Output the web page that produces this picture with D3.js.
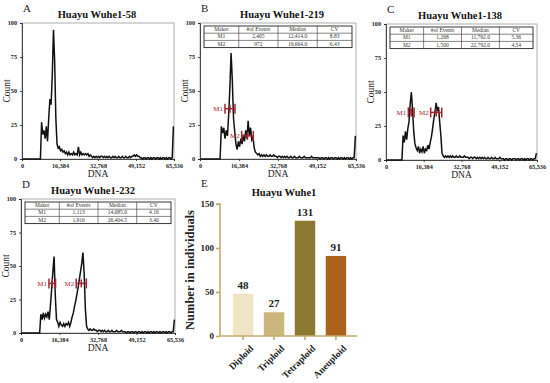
<!DOCTYPE html>
<html>
<head>
<meta charset="utf-8">
<script src="https://cdn.jsdelivr.net/npm/d3@7"></script>
<style>
  body { margin: 0; background: #fff; }
  svg { font-family: "Liberation Serif", "DejaVu Serif", serif; }
</style>
</head>
<body>
<script>
// ---- data ----
// DNA histograms: 128 bins of 512 channels each (0 .. 65,536)
var countsA = [
  0,0,0,0,0,0,0,0,0,0,0,0,0,0,0,0,
  27,18,21,15,24,13,30,44,40,62,95,72,30,11,8,9,
  6,7,5,6,4,5,3,5,3,4,3,5,3,4,3,9,
  3,5,3,4,3,4,3,4,2,3,2,1,2,1,2,1,
  2,1,2,2,1,2,1,2,1,2,1,1,2,1,2,1,
  1,2,1,1,2,1,1,2,1,1,2,1,2,2,3,2,
  3,2,2,1,1,0,1,1,0,1,1,0,1,0,1,1,
  0,1,1,0,1,0,1,1,0,1,0,1,1,0,1,24]
var countsB = [
  0,0,0,0,0,0,0,0,0,0,0,0,0,0,0,0,
  0,24,19,23,15,21,17,32,52,78,58,30,20,11,7,13,
  9,15,11,18,13,21,15,28,17,23,14,16,8,5,4,3,
  4,2,3,2,3,2,3,2,2,3,2,2,3,2,2,1,
  2,2,1,2,1,2,1,2,1,1,2,1,1,2,1,1,
  1,2,1,1,1,2,1,1,1,1,1,2,1,1,1,1,
  1,1,0,1,1,0,1,1,0,1,0,1,1,0,1,1,
  0,1,0,1,1,0,1,0,1,1,0,1,0,1,1,17]
var countsC = [
  0,0,0,0,0,0,0,0,0,0,0,0,0,0,18,13,
  21,15,23,28,41,50,37,21,12,9,7,10,5,8,6,10,
  5,8,7,11,8,13,17,23,30,35,42,36,39,28,18,5,
  3,2,3,2,3,2,3,2,3,2,2,3,2,2,3,2,
  2,2,3,2,2,2,1,2,2,1,2,2,1,2,1,2,
  1,2,1,2,1,1,2,1,1,2,1,1,2,1,1,1,
  2,1,1,1,0,1,1,0,1,1,0,1,1,1,0,1,
  1,0,1,1,0,1,0,1,1,0,1,1,0,1,1,5]
var countsD = [
  0,0,0,0,0,0,0,0,0,0,0,0,0,0,0,0,
  14,10,15,11,14,12,16,10,21,33,46,57,28,10,8,5,
  8,6,5,7,5,7,6,8,5,8,12,15,20,24,29,34,
  40,46,52,60,44,18,5,3,2,3,2,2,3,2,2,1,
  2,2,1,2,1,2,1,1,2,1,1,2,1,1,1,2,
  1,1,1,2,1,1,1,0,1,1,0,1,1,0,1,1,
  0,1,1,0,1,0,1,1,0,1,0,1,1,0,1,0,
  1,1,0,1,0,1,1,0,1,0,1,1,0,1,1,10]

var binWidth = 512
var countTicks = [0, 25, 50, 75, 100]
var dnaTicks = [0, 16384, 32768, 49152, 65536]

// gates: [name, low channel, high channel, count level]
var gatesB = [["M1", 10500, 14700, 37], ["M2", 17500, 22400, 17]]
var gatesC = [["M1", 9700, 12200, 35], ["M2", 19400, 24200, 35]]
var gatesD = [["M1", 11900, 14700, 37], ["M2", 23500, 27800, 37]]

var tableHeader = ["Maker", "#of Events", "Median", "CV"]
var tableB = [["M1", "2,405", "12,414.0", "8.83"], ["M2", "972", "19,664.0", "6.43"]]
var tableC = [["M1", "1,268", "11,792.0", "5.36"], ["M2", "1,500", "22,792.0", "4.54"]]
var tableD = [["M1", "1,113", "14,085.0", "4.16"], ["M2", "1,916", "26,404.5", "3.40"]]

// ploidy summary (panel E)
var ploidyNames = ["Diploid", "Triploid", "Tetraploid", "Aneuploid"]
var ploidyCounts = [48, 27, 131, 91]
var ploidyColors = ["#efe5c5", "#cbb77e", "#8d7a31", "#aa621d"]
var ploidyTicks = [0, 50, 100, 150]

var svg = d3.select("body").append("svg")
  .attr("width", 550)
  .attr("height", 383)

svg.append("rect").attr("width", 550).attr("height", 383).attr("fill", "#fff")

var gateColor = "#a3262f"

function drawHist(p) {
  var x = d3.scaleLinear().domain([0, 65536]).range([p.x0, p.x1])
  var y = d3.scaleLinear().domain([0, 100]).range([p.yBot, p.yTop])
  var g = svg.append("g")

  // frame
  g.append("rect")
    .attr("x", p.x0).attr("y", p.yTop)
    .attr("width", p.x1 - p.x0).attr("height", p.yBot - p.yTop)
    .attr("fill", "none").attr("stroke", "#9a9a9a").attr("stroke-width", 0.8)

  var ya = g.append("g").attr("transform", "translate(" + p.x0 + ",0)")
    .call(d3.axisLeft(y).tickValues(countTicks).tickSize(2).tickPadding(3))
  var xa = g.append("g").attr("transform", "translate(0," + p.yBot + ")")
    .call(d3.axisBottom(x).tickValues(dnaTicks).tickSize(2).tickPadding(3).tickFormat(d3.format(",")))
  ;[ya, xa].forEach(function(a) {
    a.selectAll("path, line").attr("stroke", "#222").attr("stroke-width", 0.8)
    a.selectAll("text").attr("font-family", "Liberation Serif").attr("font-size", 6.2)
      .attr("font-weight", "bold").attr("fill", "#222")
  })

  // histogram trace
  var line = d3.line()
    .x(function(d, i) { return x(i * binWidth + binWidth / 2) })
    .y(function(d) { return y(d) })
  g.append("path").datum(p.counts)
    .attr("d", line)
    .attr("fill", "none").attr("stroke", "#111").attr("stroke-width", 1.5)
    .attr("stroke-linejoin", "miter")

  // axis titles
  g.append("text")
    .attr("x", (p.x0 + p.x1) / 2).attr("y", p.yBot + 18)
    .attr("text-anchor", "middle").attr("font-size", 9.5).attr("fill", "#222")
    .text("DNA")
  g.append("text")
    .attr("transform", "translate(" + (p.x0 - 12) + "," + ((p.yTop + p.yBot) / 2) + ") rotate(-90)")
    .attr("text-anchor", "middle").attr("font-size", 9.5).attr("fill", "#222")
    .text("Count")

  // title and panel letter
  g.append("text").attr("x", p.titleX).attr("y", p.yTop - 5)
    .attr("text-anchor", "middle").attr("font-size", 10.5).attr("font-weight", "bold")
    .attr("fill", "#111").text(p.title)
  g.append("text").attr("x", p.x0 + 1).attr("y", p.yTop - 11)
    .attr("font-size", 11).attr("fill", "#222").text(p.letter)

  // gates
  if (p.gates) {
    p.gates.forEach(function(m) {
      var gy = y(m[3]), a = x(m[1]), b = x(m[2]), c = (a + b) / 2
      var gg = g.append("g").attr("stroke", gateColor).attr("stroke-width", 1.5)
      gg.append("line").attr("x1", a).attr("x2", b).attr("y1", gy).attr("y2", gy)
      gg.append("line").attr("x1", a).attr("x2", a).attr("y1", gy - 5).attr("y2", gy + 5)
      gg.append("line").attr("x1", b).attr("x2", b).attr("y1", gy - 5).attr("y2", gy + 5)
      gg.append("line").attr("x1", c).attr("x2", c).attr("y1", gy - 4).attr("y2", gy + 4)
      g.append("text").attr("x", a - 2).attr("y", gy + 2.5)
        .attr("text-anchor", "end").attr("font-size", 7).attr("fill", gateColor)
        .text(m[0])
    })
  }

  // statistics table
  if (p.table) {
    var tx0 = p.x0 + 4, tx1 = p.x1 - 4, ty0 = p.yTop + 3, rowH = 7.2
    var fr = [0, 0.235, 0.5, 0.765, 1]
    var colX = fr.map(function(f) { return tx0 + f * (tx1 - tx0) })
    var rows = [tableHeader].concat(p.table)
    var tg = g.append("g")
    tg.append("rect").attr("x", tx0).attr("y", ty0)
      .attr("width", tx1 - tx0).attr("height", rowH * rows.length)
      .attr("fill", "#fff").attr("stroke", "#222").attr("stroke-width", 0.9)
    for (var r = 1; r < rows.length; r++) {
      tg.append("line").attr("x1", tx0).attr("x2", tx1)
        .attr("y1", ty0 + r * rowH).attr("y2", ty0 + r * rowH)
        .attr("stroke", "#333").attr("stroke-width", 0.6)
    }
    for (var c = 1; c < 4; c++) {
      tg.append("line").attr("x1", colX[c]).attr("x2", colX[c])
        .attr("y1", ty0).attr("y2", ty0 + rowH * rows.length)
        .attr("stroke", "#333").attr("stroke-width", 0.6)
    }
    rows.forEach(function(row, ri) {
      row.forEach(function(cell, ci) {
        tg.append("text")
          .attr("x", (colX[ci] + colX[ci + 1]) / 2).attr("y", ty0 + ri * rowH + rowH - 2)
          .attr("text-anchor", "middle").attr("font-size", 5.5).attr("fill", "#333")
          .text(cell)
      })
    })
  }
}

drawHist({ x0: 22, x1: 174, yTop: 23, yBot: 159, counts: countsA, title: "Huayu Wuhe1-58", titleX: 97, letter: "A" })
drawHist({ x0: 200, x1: 356, yTop: 23, yBot: 159, counts: countsB, title: "Huayu Wuhe1-219", titleX: 282, letter: "B", gates: gatesB, table: tableB })
drawHist({ x0: 386, x1: 537, yTop: 24, yBot: 160, counts: countsC, title: "Huayu Wuhe1-138", titleX: 460, letter: "C", gates: gatesC, table: tableC })
drawHist({ x0: 21, x1: 175, yTop: 199, yBot: 333, counts: countsD, title: "Huayu Wuhe1-232", titleX: 93, letter: "D", gates: gatesD, table: tableD })

// ---- panel E: bar chart ----
var eAxis = "#c4ab6c"
var xe = d3.scaleBand().domain(ploidyNames).range([222, 357]).paddingInner(0.34).paddingOuter(0.35)
var ye = d3.scaleLinear().domain([0, 150]).range([336, 204])
var ge = svg.append("g")

ge.selectAll("rect.bar")
  .data(ploidyCounts)
  .enter().append("rect")
  .attr("class", "bar")
  .attr("x", function(d, i) { return xe(ploidyNames[i]) })
  .attr("y", function(d) { return ye(d) })
  .attr("width", xe.bandwidth())
  .attr("height", function(d) { return ye(0) - ye(d) })
  .attr("fill", function(d, i) { return ploidyColors[i] })

ge.selectAll("text.val")
  .data(ploidyCounts)
  .enter().append("text")
  .attr("class", "val")
  .attr("x", function(d, i) { return xe(ploidyNames[i]) + xe.bandwidth() / 2 })
  .attr("y", function(d) { return ye(d) - 5 })
  .attr("text-anchor", "middle").attr("font-size", 11).attr("font-weight", "bold")
  .attr("fill", "#222")
  .text(function(d) { return d })

var yAxE = ge.append("g").attr("transform", "translate(220,0)")
  .call(d3.axisLeft(ye).tickValues(ploidyTicks).tickSize(4).tickPadding(2))
var xAxE = ge.append("g").attr("transform", "translate(0,336)")
  .call(d3.axisBottom(xe).tickSize(4).tickSizeOuter(0))
yAxE.select(".domain").attr("d", "M-4,204H0V336")
xAxE.select(".domain").attr("d", "M220,0H357")
;[yAxE, xAxE].forEach(function(a) {
  a.selectAll("path, line").attr("stroke", eAxis).attr("stroke-width", 1.6)
  a.selectAll("text").attr("font-family", "Liberation Serif").attr("font-weight", "bold")
    .attr("fill", "#222")
})
yAxE.selectAll("text").attr("font-size", 9)
xAxE.selectAll("text")
  .attr("font-size", 9.5)
  .attr("text-anchor", "end")
  .attr("transform", "translate(2,4) rotate(-45)")
  .attr("dy", "0.6em")

ge.append("text")
  .attr("transform", "translate(194,270) rotate(-90)")
  .attr("text-anchor", "middle").attr("font-size", 12.5).attr("font-weight", "bold")
  .attr("fill", "#222").text("Number in individuals")

ge.append("text").attr("x", 284).attr("y", 196)
  .attr("text-anchor", "middle").attr("font-size", 10.5).attr("font-weight", "bold")
  .attr("fill", "#111").text("Huayu Wuhe1")
ge.append("text").attr("x", 201).attr("y", 187)
  .attr("font-size", 11).attr("fill", "#222").text("E")
</script>
</body>
</html>
